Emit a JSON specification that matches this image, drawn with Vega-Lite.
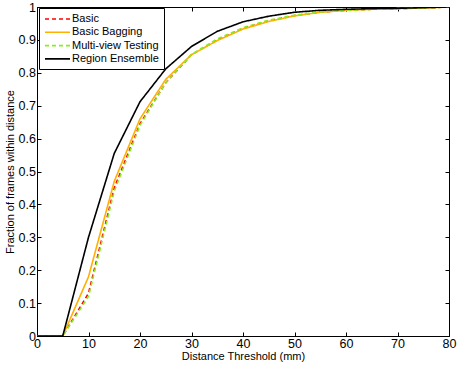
{
  "$schema": "https://vega.github.io/schema/vega-lite/v6.json",
  "width": 412,
  "height": 329,
  "autosize": {"type": "none"},
  "padding": {"left": 37, "top": 7, "right": 8, "bottom": 30},
  "background": "white",
  "config": {
    "font": "Liberation Sans",
    "view": {"stroke": "black", "strokeWidth": 1},
    "axis": {
      "labelFont": "Liberation Sans", "titleFont": "Liberation Sans",
      "labelFontSize": 12.5, "titleFontSize": 11, "titleFontWeight": "normal",
      "labelColor": "black", "titleColor": "black",
      "domainColor": "black", "tickColor": "black",
      "gridColor": "#c8c8c8", "gridDash": [1, 2], "gridWidth": 1, "gridOpacity": 1,
      "tickSize": -4
    }
  },
  "resolve": {"axis": {"x": "independent", "y": "independent"}},
  "data": {
    "values": [
      {"x": 0, "y": 0, "s": "Basic"}, {"x": 5, "y": 0, "s": "Basic"}, {"x": 10, "y": 0.13, "s": "Basic"}, {"x": 15, "y": 0.45, "s": "Basic"}, {"x": 20, "y": 0.645, "s": "Basic"}, {"x": 25, "y": 0.77, "s": "Basic"}, {"x": 30, "y": 0.855, "s": "Basic"}, {"x": 35, "y": 0.9, "s": "Basic"}, {"x": 40, "y": 0.935, "s": "Basic"}, {"x": 45, "y": 0.958, "s": "Basic"}, {"x": 50, "y": 0.974, "s": "Basic"}, {"x": 55, "y": 0.984, "s": "Basic"}, {"x": 60, "y": 0.99, "s": "Basic"}, {"x": 65, "y": 0.993, "s": "Basic"}, {"x": 70, "y": 0.995, "s": "Basic"}, {"x": 75, "y": 0.997, "s": "Basic"}, {"x": 80, "y": 1.0, "s": "Basic"},
      {"x": 0, "y": 0, "s": "Basic Bagging"}, {"x": 5, "y": 0, "s": "Basic Bagging"}, {"x": 10, "y": 0.18, "s": "Basic Bagging"}, {"x": 15, "y": 0.47, "s": "Basic Bagging"}, {"x": 20, "y": 0.66, "s": "Basic Bagging"}, {"x": 25, "y": 0.78, "s": "Basic Bagging"}, {"x": 30, "y": 0.855, "s": "Basic Bagging"}, {"x": 35, "y": 0.898, "s": "Basic Bagging"}, {"x": 40, "y": 0.933, "s": "Basic Bagging"}, {"x": 45, "y": 0.956, "s": "Basic Bagging"}, {"x": 50, "y": 0.973, "s": "Basic Bagging"}, {"x": 55, "y": 0.984, "s": "Basic Bagging"}, {"x": 60, "y": 0.99, "s": "Basic Bagging"}, {"x": 65, "y": 0.993, "s": "Basic Bagging"}, {"x": 70, "y": 0.995, "s": "Basic Bagging"}, {"x": 75, "y": 0.997, "s": "Basic Bagging"}, {"x": 80, "y": 1.0, "s": "Basic Bagging"},
      {"x": 0, "y": 0, "s": "Multi-view Testing"}, {"x": 5, "y": 0, "s": "Multi-view Testing"}, {"x": 10, "y": 0.12, "s": "Multi-view Testing"}, {"x": 15, "y": 0.44, "s": "Multi-view Testing"}, {"x": 20, "y": 0.64, "s": "Multi-view Testing"}, {"x": 25, "y": 0.77, "s": "Multi-view Testing"}, {"x": 30, "y": 0.856, "s": "Multi-view Testing"}, {"x": 35, "y": 0.903, "s": "Multi-view Testing"}, {"x": 40, "y": 0.937, "s": "Multi-view Testing"}, {"x": 45, "y": 0.96, "s": "Multi-view Testing"}, {"x": 50, "y": 0.975, "s": "Multi-view Testing"}, {"x": 55, "y": 0.985, "s": "Multi-view Testing"}, {"x": 60, "y": 0.99, "s": "Multi-view Testing"}, {"x": 65, "y": 0.993, "s": "Multi-view Testing"}, {"x": 70, "y": 0.995, "s": "Multi-view Testing"}, {"x": 75, "y": 0.997, "s": "Multi-view Testing"}, {"x": 80, "y": 1.0, "s": "Multi-view Testing"},
      {"x": 0, "y": 0, "s": "Region Ensemble"}, {"x": 5, "y": 0, "s": "Region Ensemble"}, {"x": 10, "y": 0.3, "s": "Region Ensemble"}, {"x": 15, "y": 0.555, "s": "Region Ensemble"}, {"x": 20, "y": 0.712, "s": "Region Ensemble"}, {"x": 25, "y": 0.812, "s": "Region Ensemble"}, {"x": 30, "y": 0.88, "s": "Region Ensemble"}, {"x": 35, "y": 0.926, "s": "Region Ensemble"}, {"x": 40, "y": 0.955, "s": "Region Ensemble"}, {"x": 45, "y": 0.972, "s": "Region Ensemble"}, {"x": 50, "y": 0.984, "s": "Region Ensemble"}, {"x": 55, "y": 0.99, "s": "Region Ensemble"}, {"x": 60, "y": 0.993, "s": "Region Ensemble"}, {"x": 65, "y": 0.995, "s": "Region Ensemble"}, {"x": 70, "y": 0.996, "s": "Region Ensemble"}, {"x": 75, "y": 0.998, "s": "Region Ensemble"}, {"x": 80, "y": 1.0, "s": "Region Ensemble"}
    ]
  },
  "layer": [
    {
      "mark": {"type": "point", "opacity": 0},
      "encoding": {
        "x": {"field": "x", "type": "quantitative", "scale": {"domain": [0, 80], "nice": false},
          "axis": {"orient": "top", "values": [0, 10, 20, 30, 40, 50, 60, 70, 80], "labels": false, "title": null, "grid": false, "domain": false}},
        "y": {"field": "y", "type": "quantitative", "scale": {"domain": [0, 1], "nice": false},
          "axis": {"orient": "right", "values": [0, 0.1, 0.2, 0.3, 0.4, 0.5, 0.6, 0.7, 0.8, 0.9, 1], "labels": false, "title": null, "grid": false, "domain": false}}
      }
    },
    {
      "mark": {"type": "line", "strokeWidth": 1.6, "clip": true},
      "encoding": {
        "x": {
          "field": "x", "type": "quantitative",
          "scale": {"domain": [0, 80], "nice": false},
          "axis": {"orient": "bottom", "values": [0, 10, 20, 30, 40, 50, 60, 70, 80], "title": "Distance Threshold (mm)", "titlePadding": 1, "labelPadding": 5, "labelFlush": false}
        },
        "y": {
          "field": "y", "type": "quantitative",
          "scale": {"domain": [0, 1], "nice": false},
          "axis": {"orient": "left", "values": [0, 0.1, 0.2, 0.3, 0.4, 0.5, 0.6, 0.7, 0.8, 0.9, 1], "format": "~g", "title": "Fraction of frames within distance", "titlePadding": 3, "labelPadding": 5.5, "labelFlush": false}
        },
        "color": {
          "field": "s", "type": "nominal",
          "scale": {"domain": ["Basic", "Basic Bagging", "Multi-view Testing", "Region Ensemble"], "range": ["#ff0000", "#ffb000", "#88ee22", "#000000"]},
          "legend": {
            "title": null, "orient": "none", "legendX": 2, "legendY": 1,
            "symbolType": "M-1,0H4", "symbolSize": 100, "symbolStrokeWidth": 1.6,
            "labelFont": "Liberation Sans", "labelFontSize": 11, "labelColor": "black",
            "rowPadding": 2.3, "padding": 5, "fillColor": "white", "strokeColor": "black", "labelOffset": 16
          }
        },
        "strokeDash": {
          "field": "s", "type": "nominal",
          "scale": {"domain": ["Basic", "Basic Bagging", "Multi-view Testing", "Region Ensemble"], "range": [[4, 3], [1, 0], [4, 3], [1, 0]]},
          "legend": null
        },
        "order": {"field": "x", "type": "quantitative"}
      }
    }
  ]
}
